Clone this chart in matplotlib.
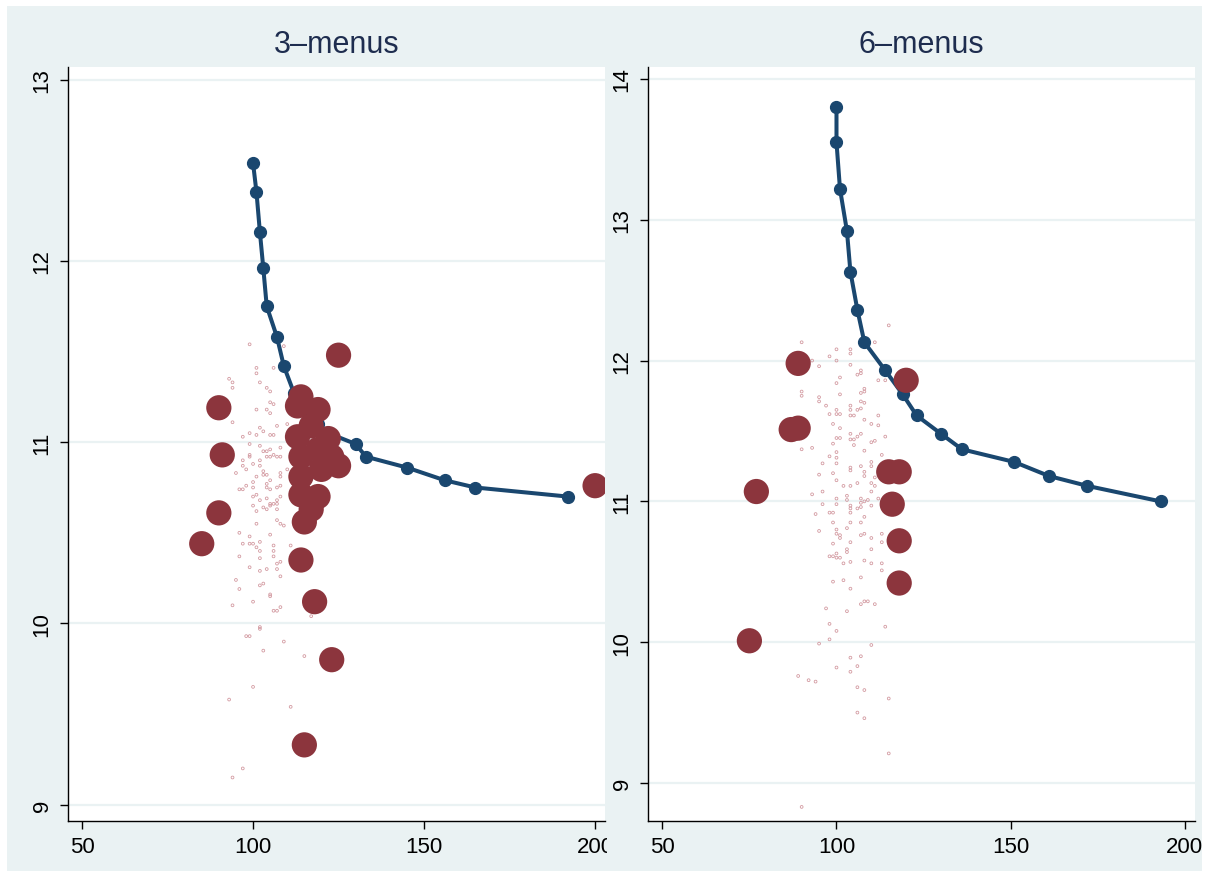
import matplotlib
matplotlib.use("Agg")
import matplotlib.pyplot as plt
from matplotlib.patches import Rectangle

plt.rcParams["font.family"] = ["Liberation Sans", "DejaVu Sans"]

BG = "#EAF2F3"
NAVY = "#1A476F"
MAROON = "#8C353D"
DOT = "#D39AA1"

# ---- 3-menus panel data ----
titles = ["3\u2013menus", "6\u2013menus"]

line3_x = [100, 101, 102, 103, 104, 107, 109, 112, 116, 119, 122, 130, 133, 145, 156, 165, 192]
line3_y = [12.54, 12.38, 12.16, 11.96, 11.75, 11.58, 11.42, 11.27, 11.16, 11.10, 11.05, 10.99, 10.92,
           10.86, 10.79, 10.75, 10.70]

big3_x = [125, 90, 114, 113, 119, 117, 113, 122, 119, 114, 123, 125, 120, 114, 114, 119, 117,
          91, 90, 85, 115, 114, 118, 123, 115, 200]
big3_y = [11.48, 11.19, 11.25, 11.20, 11.18, 11.09, 11.03, 11.02, 10.96, 10.92, 10.92, 10.87, 10.85,
          10.81, 10.71, 10.70, 10.63, 10.93, 10.61, 10.44, 10.56, 10.35, 10.12, 9.80, 9.33, 10.76]

small3 = [(99, 11.54), (93, 11.35), (94, 11.33), (94, 11.30), (101, 11.41), (101, 11.38), (102, 11.33),
          (106, 11.41), (109, 11.53), (104, 11.30), (105, 11.28), (105, 11.22), (106, 11.21), (101, 11.18),
          (104, 11.18), (105, 11.16), (94, 11.11), (102, 11.08), (103, 11.06), (107, 11.09), (99, 11.05),
          (101, 11.04), (105, 11.04), (106, 11.04), (97, 11.03), (110, 11.10), (99, 10.99), (102, 10.98),
          (108, 10.97), (103, 10.95), (104, 10.95), (105, 10.96), (106, 10.93), (107, 10.92), (108, 10.92),
          (99, 10.93), (99, 10.92), (97, 10.90), (102, 10.90), (104, 10.92), (105, 10.92), (100, 10.88),
          (102, 10.87), (97, 10.87), (98, 10.85), (95, 10.83), (103, 10.84), (104, 10.82), (103, 10.82),
          (108, 10.83), (108, 10.81), (110, 10.85), (101, 10.81),
          (96, 10.74), (97, 10.74), (98, 10.76), (100, 10.78), (100, 10.75), (104, 10.77), (104, 10.75),
          (105, 10.79), (105, 10.74), (107, 10.75), (108, 10.76), (101, 10.71), (100, 10.70), (102, 10.68),
          (104, 10.69), (105, 10.66), (106, 10.66), (107, 10.68), (108, 10.70), (100, 10.65), (101, 10.62),
          (103, 10.64), (104, 10.63), (105, 10.65), (107, 10.66), (107, 10.63), (101, 10.55), (107, 10.57),
          (108, 10.55), (109, 10.54), (96, 10.50), (105, 10.49), (99, 10.48), (97, 10.44), (99, 10.44),
          (100, 10.44), (102, 10.45), (101, 10.42), (102, 10.40), (106, 10.43), (106, 10.40), (111, 10.43),
          (96, 10.37), (102, 10.36), (106, 10.37), (108, 10.34), (107, 10.33), (99, 10.31), (104, 10.30),
          (102, 10.29), (107, 10.30), (108, 10.26), (95, 10.24), (103, 10.22), (102, 10.21), (96, 10.19),
          (105, 10.16), (105, 10.15), (100, 10.12), (94, 10.10), (106, 10.07), (107, 10.07), (108, 10.09),
          (117, 10.04), (102, 9.98),
          (98, 9.93), (99, 9.93), (102, 9.97), (109, 9.90), (103, 9.85), (115, 9.82), (100, 9.65),
          (93, 9.58), (111, 9.54), (97, 9.20), (94, 9.15)]

# ---- 6-menus panel data ----
line6_x = [100, 100, 101, 103, 104, 106, 108, 114, 119, 123, 130, 136, 151, 161, 172, 193]
line6_y = [13.80, 13.55, 13.22, 12.92, 12.63, 12.36, 12.13, 11.93, 11.76, 11.61, 11.48, 11.37, 11.28,
           11.18, 11.11, 11.00]

big6_x = [89, 120, 87, 89, 77, 115, 118, 116, 118, 118, 75]
big6_y = [11.98, 11.86, 11.51, 11.52, 11.07, 11.21, 11.21, 10.98, 10.72, 10.42, 10.01]

small6 = [(115, 12.25), (90, 12.13), (111, 12.13), (100, 12.08), (104, 12.08), (104, 12.05), (98, 12.03),
          (100, 12.00), (93, 12.00), (95, 11.96), (104, 11.97), (107, 11.93), (107, 11.91), (106, 11.90),
          (101, 11.88), (112, 11.86), (114, 11.86), (100, 11.84), (108, 11.80), (108, 11.78), (107, 11.77),
          (90, 11.78), (90, 11.75), (101, 11.76), (95, 11.74), (95, 11.71), (97, 11.68), (104, 11.68),
          (107, 11.71), (108, 11.70), (100, 11.65), (100, 11.62), (101, 11.62), (98, 11.62), (104, 11.65),
          (106, 11.65), (107, 11.66), (104, 11.61), (105, 11.61), (112, 11.61), (108, 11.58), (99, 11.55),
          (110, 11.55), (112, 11.54), (101, 11.52), (104, 11.48), (107, 11.48), (106, 11.46), (100, 11.45),
          (101, 11.45), (104, 11.44), (105, 11.44), (114, 11.46), (110, 11.42), (111, 11.43), (99, 11.41),
          (105, 11.40), (90, 11.37), (93, 11.38), (108, 11.36), (100, 11.35), (113, 11.33), (98, 11.32),
          (100, 11.31), (100, 11.27), (96, 11.27), (107, 11.25), (110, 11.28), (110, 11.25), (104, 11.24),
          (104, 11.22), (108, 11.21), (99, 11.20), (95, 11.19), (108, 11.18), (100, 11.15), (111, 11.17),
          (102, 11.11), (104, 11.11), (106, 11.13), (110, 11.13), (111, 11.11), (93, 11.05), (96, 11.07),
          (100, 11.02), (103, 11.04), (103, 11.01), (107, 11.02), (107, 10.99), (108, 11.00), (109, 11.01),
          (110, 11.07), (112, 11.02), (96, 10.98), (100, 10.98), (104, 10.97), (104, 10.95), (104, 10.92),
          (106, 10.95), (107, 10.96), (110, 10.97), (94, 10.91), (98, 10.92), (99, 10.92), (108, 10.89),
          (99, 10.85), (104, 10.85), (107, 10.85), (103, 10.81), (95, 10.79), (100, 10.80), (100, 10.77),
          (101, 10.76), (101, 10.74), (107, 10.76), (108, 10.77), (110, 10.74), (113, 10.77), (99, 10.70),
          (104, 10.71), (113, 10.71), (103, 10.66), (103, 10.64), (110, 10.66), (98, 10.61), (99, 10.61),
          (100, 10.63), (100, 10.60), (101, 10.60), (102, 10.56), (104, 10.57), (108, 10.58), (110, 10.56),
          (113, 10.56), (113, 10.51), (107, 10.46), (99, 10.43), (102, 10.44), (104, 10.38), (115, 10.41),
          (108, 10.29), (109, 10.29), (107, 10.27), (111, 10.27), (97, 10.24), (103, 10.22), (98, 10.13),
          (114, 10.11), (100, 10.08), (98, 10.02),
          (95, 9.99), (110, 9.98), (104, 9.89), (107, 9.90), (100, 9.82), (106, 9.83), (104, 9.79),
          (89, 9.76), (92, 9.73), (94, 9.72), (106, 9.68), (108, 9.66), (115, 9.60), (106, 9.50),
          (108, 9.46), (115, 9.21), (90, 8.83)]

yticks3 = [9, 10, 11, 12, 13]
yticks6 = [9, 10, 11, 12, 13, 14]
xticks = [50, 100, 150, 200]

W, H = 1209, 879
fig = plt.figure(figsize=(W / 100, H / 100), dpi=100, facecolor="white")

# outer light background (white border around it)
fig.patches.append(Rectangle((7 / W, 7 / H), (W - 14) / W, (H - 14) / H, transform=fig.transFigure,
                             facecolor=BG, edgecolor="none", zorder=-1))
# right panel region drawn over the left panel's labels (clips the "200")
fig.patches.append(Rectangle((607 / W, 7 / H), (W - 7 - 607) / W, (H - 14) / H, transform=fig.transFigure,
                             facecolor=BG, edgecolor="none", zorder=0.5))

ax1 = fig.add_axes([68 / W, 1 - 822 / H, 537 / W, 754 / H], zorder=0)
ax2 = fig.add_axes([648 / W, 1 - 822 / H, 547 / W, 754 / H], zorder=1)

panels = [
    (ax1, small3, line3_x, line3_y, big3_x, big3_y, yticks3, (8.91, 13.07)),
    (ax2, small6, line6_x, line6_y, big6_x, big6_y, yticks6, (8.73, 14.085)),
]

for i, (ax, small, lx, ly, bx, by, yt, ylim) in enumerate(panels):
    ax.set_facecolor("white")
    sx = [p[0] for p in small]
    sy = [p[1] for p in small]
    ax.scatter(sx, sy, s=4, facecolors="none", edgecolors=DOT, linewidths=0.6, zorder=2)
    ax.plot(lx, ly, color=NAVY, lw=2.9, marker="o", ms=8.5, zorder=3)
    ax.scatter(bx, by, s=330, color=MAROON, edgecolors="none", zorder=4)

    ax.set_xlim(45.9, 202.9)
    ax.set_ylim(*ylim)
    ax.set_xticks(xticks)
    ax.set_yticks(yt)
    ax.grid(axis="y", color=BG, lw=1.6, zorder=1)
    ax.set_axisbelow(True)
    for s in ["top", "right"]:
        ax.spines[s].set_visible(False)
    for s in ["left", "bottom"]:
        ax.spines[s].set_color("black")
        ax.spines[s].set_linewidth(1.0)
    ax.tick_params(axis="both", direction="out", length=6, width=1, labelsize=16, colors="black", pad=5)
    for lab in ax.get_yticklabels():
        lab.set_rotation(90)
        lab.set_va("center")
    ax.set_title(titles[i], fontsize=22, color="#1E2D4F", pad=11)

fig.savefig("out.png", dpi=100, facecolor="white")
